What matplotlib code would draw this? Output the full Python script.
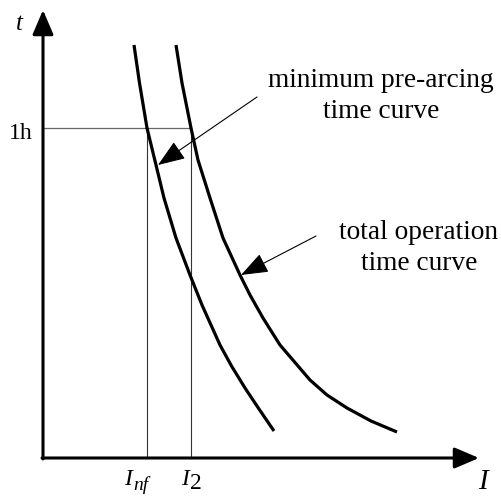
import matplotlib
matplotlib.use("Agg")
import matplotlib.pyplot as plt

plt.rcParams["font.family"] = "Liberation Serif"

# time-current characteristics (current I, time t), arbitrary units
prearc_I = [91, 96.5, 104, 113, 121, 133, 147, 159, 177, 188.5, 202, 216, 231]
prearc_t = [413, 375, 330, 293, 260, 220, 183, 153, 113, 92, 70, 49, 27]
total_I = [133, 139, 148, 155, 167, 180, 197, 207, 220, 237, 267, 284, 304, 328, 354]
total_t = [413, 375, 330, 298, 260, 220, 183, 163, 140, 113, 78, 63, 50, 37, 26]

t_1h = 330
I_nf = 104
I_2 = 148

fig = plt.figure(figsize=(5.01, 4.97), dpi=100)
ax = fig.add_axes([0, 0, 1, 1])
ax.set_xlim(-43, 458)
ax.set_ylim(-39, 458)
ax.axis("off")

# axes with arrow heads
axis_kw = dict(arrowstyle="-|>,head_length=0.75,head_width=0.32",
               mutation_scale=20, lw=2.2, color="black", shrinkA=0, shrinkB=0)
ax.annotate("", xy=(0, 448), xytext=(0, -1), arrowprops=axis_kw)
ax.annotate("", xy=(436, 0), xytext=(-1, 0), arrowprops=axis_kw)

# guide lines for the 1h point
ax.plot([0, I_2], [t_1h, t_1h], color="#666666", lw=0.9)
ax.plot([I_nf, I_nf], [0, t_1h], color="#333333", lw=0.8)
ax.plot([I_2, I_2], [0, t_1h], color="#333333", lw=0.8)

ax.plot(prearc_I, prearc_t, color="black", lw=2.3,
        solid_capstyle="butt", solid_joinstyle="round")
ax.plot(total_I, total_t, color="black", lw=2.3,
        solid_capstyle="butt", solid_joinstyle="round")

lbl_kw = dict(arrowstyle="-|>,head_length=0.85,head_width=0.32",
              mutation_scale=20, lw=0.8, color="black", shrinkA=0, shrinkB=0)
ax.annotate("", xy=(115, 293), xytext=(214, 361), arrowprops=lbl_kw)
ax.annotate("", xy=(198, 183), xytext=(273, 222), arrowprops=lbl_kw)

ax.text(338, 371, "minimum pre-arcing", ha="center", va="baseline", fontsize=19.7)
ax.text(338, 340, "time curve", ha="center", va="baseline", fontsize=19.7)
ax.text(376, 219, "total operation", ha="center", va="baseline", fontsize=19.7)
ax.text(376, 188, "time curve", ha="center", va="baseline", fontsize=19.7)

ax.text(-23.5, 428, "t", ha="center", va="baseline", fontsize=18, style="italic")
ax.text(-10, 319, "1h", ha="right", va="baseline", fontsize=17)

# current labels on the I axis
ax.text(85.5, -27, "I", ha="center", va="baseline", fontsize=17, style="italic")
ax.text(90, -32, "nf", ha="left", va="baseline", fontsize=14, style="italic")
ax.text(142, -27, "I", ha="center", va="baseline", fontsize=17, style="italic")
ax.text(147, -31, "2", ha="left", va="baseline", fontsize=17)
ax.text(440, -31, "I", ha="center", va="baseline", fontsize=21, style="italic")

fig.savefig("out.png", dpi=100)
